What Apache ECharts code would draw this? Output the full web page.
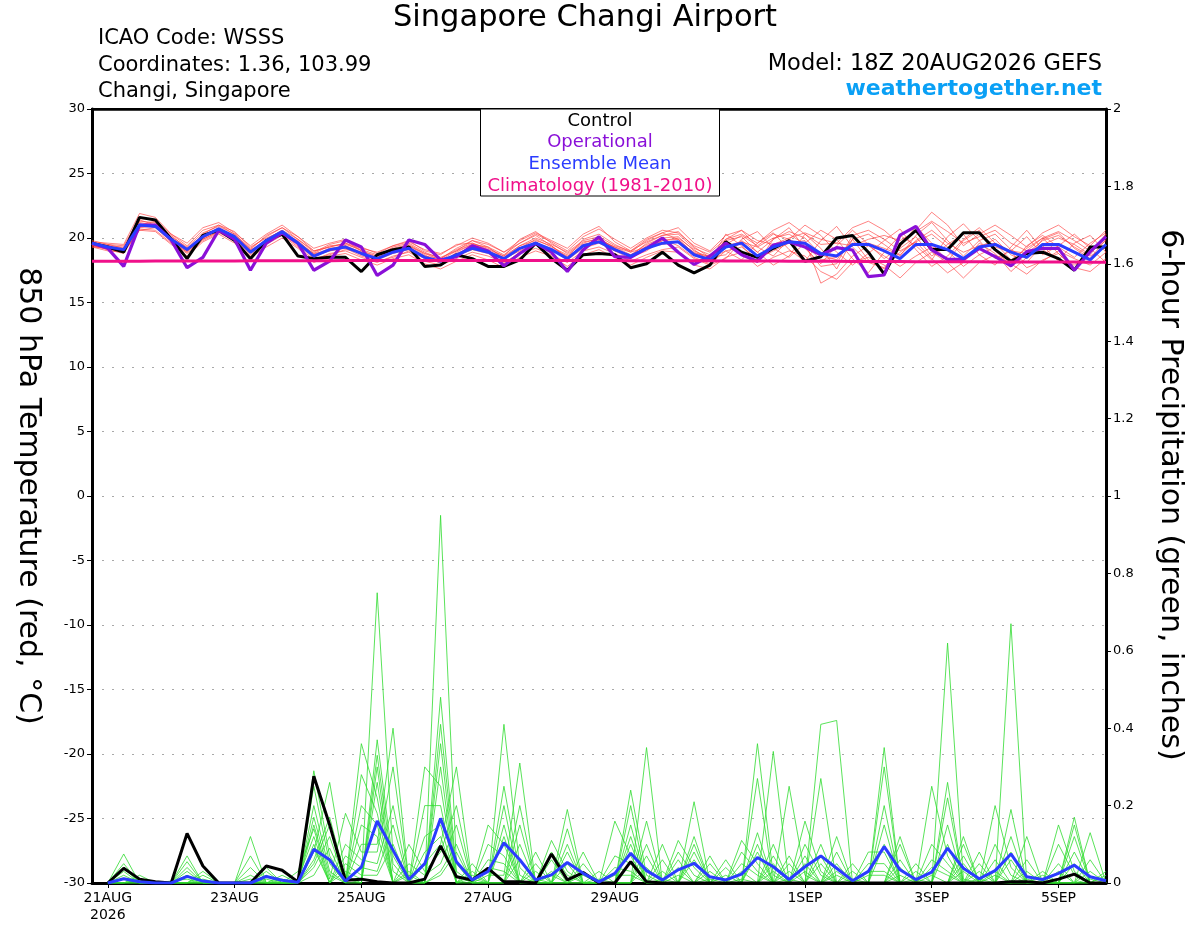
<!DOCTYPE html>
<html><head><meta charset="utf-8">
<script src="https://cdn.jsdelivr.net/npm/echarts@6/dist/echarts.min.js"></script>
<style>html,body{margin:0;padding:0;background:#fff}#c{width:1200px;height:927px}</style>
</head><body><div id="c"></div>
<script>
// ---- x axis: 6-hourly steps from 18Z 20AUG2026 to 18Z 05SEP2026 ----
const nSteps = 65;
const tickIndex = [1, 9, 17, 25, 33, 45, 53, 61];
const tickText = ['21AUG\n2026', '23AUG', '25AUG', '27AUG', '29AUG', '1SEP', '3SEP', '5SEP'];
const leftTicks = { min: -30, max: 30, interval: 5 };
const rightTicks = { min: 0, max: 2, interval: 0.2 };

// ---- 850 hPa temperature (deg C) ----
const tempControl = [
 19.6,19.3,18.9,21.6,21.4,19.9,18.4,20.2,20.6,19.8,
 18.4,19.8,20.3,18.6,18.4,18.5,18.5,17.4,18.7,19.1,
 19.3,17.8,17.9,18.7,18.4,17.8,17.8,18.3,19.6,18.4,
 17.5,18.7,18.8,18.7,17.7,18.0,18.9,17.9,17.3,17.9,
 19.7,18.9,18.5,19.2,19.8,18.2,18.55,20.0,20.2,18.9,
 17.2,19.5,20.6,19.1,19.1,20.4,20.4,19.1,18.2,18.8,
 18.9,18.4,17.5,19.3,19.3];
const tempOperational = [
 19.6,19.2,17.8,21.0,21.0,19.85,17.7,18.5,20.6,19.9,
 17.5,19.6,20.4,19.6,17.5,18.2,19.85,19.3,17.1,17.9,
 19.85,19.5,18.3,18.55,19.4,19.0,17.85,18.8,19.6,18.9,
 17.4,19.07,20.1,18.55,18.5,19.2,20.0,18.9,17.95,18.6,
 19.6,18.7,18.2,19.45,19.7,19.3,18.7,19.25,19.07,17.0,
 17.13,20.23,20.9,19.07,18.34,18.34,19.2,18.55,17.85,18.94,
 19.2,19.2,17.5,18.94,20.1];
const tempMean = [
 19.6,19.3,19.1,21.0,20.9,19.9,19.1,20.1,20.7,20.1,
 18.9,19.8,20.5,19.6,18.6,19.1,19.3,18.8,18.4,18.9,
 19.2,18.5,18.2,18.7,19.2,18.9,18.4,19.2,19.6,19.1,
 18.4,19.4,19.7,19.1,18.6,19.2,19.6,19.7,18.7,18.3,
 19.3,19.6,18.6,19.3,19.7,19.6,18.8,18.6,19.5,19.5,
 19.0,18.4,19.5,19.5,19.1,18.4,19.3,19.5,18.9,18.5,
 19.5,19.5,18.9,18.3,19.5];
const tempClimatology = [
 18.2,18.2,18.2,18.2,18.21,18.21,18.21,18.22,18.22,18.22,
 18.23,18.23,18.23,18.24,18.24,18.24,18.25,18.25,18.25,18.25,
 18.26,18.26,18.26,18.26,18.26,18.26,18.26,18.26,18.26,18.26,
 18.25,18.25,18.25,18.25,18.24,18.24,18.24,18.23,18.23,18.23,
 18.22,18.22,18.21,18.21,18.2,18.2,18.19,18.19,18.18,18.18,
 18.17,18.17,18.16,18.16,18.15,18.15,18.15,18.14,18.14,18.14,
 18.13,18.13,18.13,18.12,18.12];
const tempMembers = [
 [19.5,19.4,19.3,21.3,21.2,20.1,19.3,20.4,20.9,20.3, 19.2,20.1,20.8,19.9,18.9,19.5,19.8,19.0,18.6,19.3, 19.6,18.9,18.4,19.2,19.8,19.3,18.7,19.6,20.2,19.4, 18.5,19.9,20.3,19.5,18.9,19.8,20.4,19.9,18.8,18.6, 19.8,20.1,18.9,19.9,20.5,20.0,18.7,18.3,19.9,20.3, 19.5,18.6,20.2,21.2,19.8,18.6,19.8,20.3,19.1,18.4, 19.9,20.4,19.2,18.4,19.9],
 [19.4,19.1,18.8,20.7,20.6,19.6,18.8,19.8,20.4,19.8, 18.6,19.5,20.2,19.3,18.3,18.8,19.0,18.5,18.1,18.6, 18.9,18.2,17.9,18.4,18.9,18.6,18.1,18.8,19.2,18.7, 18.1,19.0,19.3,18.8,18.2,18.7,19.1,19.3,18.4,17.9, 18.4,19.8,18.9,17.9,18.6,20.3,19.2,17.6,19.9,18.3, 17.6,18.9,19.7,18.4,17.3,18.1,19.6,18.8,17.4,18.5, 19.4,18.2,17.9,18.9,19.8],
 [19.7,19.6,19.5,21.9,21.6,20.3,19.6,20.8,21.2,20.4, 19.4,20.3,21.0,20.1,19.0,19.3,19.6,19.2,18.9,19.4, 19.8,19.0,18.7,19.5,19.6,19.1,18.6,19.9,20.5,19.6, 18.8,19.7,19.9,19.2,18.6,19.6,20.2,20.5,19.3,18.5, 19.5,20.2,19.4,20.3,19.9,19.3,17.8,18.0,20.2,20.6, 19.9,19.0,19.7,20.3,19.3,18.2,19.3,19.9,18.7,18.1, 19.5,20.0,19.5,18.7,20.3],
 [19.3,19.2,19.0,20.9,21.1,20.0,19.2,20.0,20.6,20.2, 19.1,19.6,20.4,19.8,18.7,19.2,19.4,18.7,18.5,19.1, 19.4,18.7,18.0,18.9,19.5,19.3,18.4,19.2,19.9,19.3, 18.7,19.6,20.0,19.2,18.5,19.0,19.8,20.0,19.1,18.2, 20.3,19.4,18.1,19.9,20.8,19.2,18.0,19.4,20.6,19.5, 18.4,19.3,20.9,19.6,18.2,19.8,20.6,19.0,17.9,19.4, 20.2,19.3,18.5,19.6,20.4],
 [19.6,19.5,19.2,21.1,20.8,19.7,18.9,20.0,20.7,20.0, 18.8,19.9,20.6,19.5,18.4,18.7,19.1,18.9,18.2,18.5, 19.0,18.4,18.3,18.6,19.1,18.8,18.0,18.9,19.5,19.1, 18.3,19.2,19.6,19.0,18.4,19.4,19.9,19.4,18.5,18.0, 19.0,19.3,18.4,19.0,19.6,19.8,16.5,17.2,18.6,19.4, 18.6,17.8,18.6,19.3,19.0,17.8,18.7,19.3,18.9,17.7, 18.2,19.0,18.4,17.9,18.9],
 [19.5,19.3,19.2,21.2,21.0,20.0,19.0,20.3,21.0,20.5, 19.3,20.0,20.5,19.6,18.8,19.4,19.5,19.1,18.7,19.2, 19.5,18.8,18.5,19.0,19.8,19.5,18.9,19.6,20.3,19.7, 19.0,20.1,20.7,19.9,19.2,20.0,20.6,20.4,19.4,18.9, 19.9,20.3,19.6,20.6,21.2,20.3,19.5,19.6,20.8,21.3, 20.6,19.5,20.6,22.0,21.0,19.4,20.3,21.0,20.2,19.3, 20.4,21.0,20.1,19.4,20.6],
 [19.4,19.2,18.9,20.8,20.9,19.8,19.0,19.9,20.5,19.9, 18.9,19.7,20.3,19.7,18.8,19.0,19.2,18.6,18.3,18.8, 19.1,18.5,18.1,18.8,19.3,18.9,18.3,19.1,19.7,19.0, 18.5,19.5,19.8,19.3,18.9,19.3,19.5,19.7,18.9,18.4, 19.0,18.3,19.6,20.4,19.1,18.2,19.8,20.9,19.3,18.1, 17.7,19.2,20.1,18.6,19.5,20.3,18.7,17.9,19.3,20.6, 19.1,18.3,19.6,20.2,18.9],
 [19.5,19.1,19.0,20.6,20.5,19.5,18.6,19.7,20.3,19.6, 18.5,19.3,20.0,19.2,18.1,18.6,18.8,18.3,17.9,18.4, 18.7,18.0,17.6,18.2,18.7,18.3,17.7,18.5,19.0,18.6, 17.8,18.7,19.1,18.5,17.9,18.5,19.0,18.9,17.9,17.6, 18.5,18.9,17.8,18.5,19.0,18.6,17.4,16.8,18.1,18.5, 17.9,16.9,18.1,18.9,18.1,16.9,18.1,18.7,18.0,17.2, 18.3,18.8,17.7,17.4,18.4],
 [19.8,19.5,19.4,21.5,21.4,20.3,19.4,20.6,21.0,20.3, 19.1,20.2,20.8,20.1,19.2,19.6,19.9,19.3,18.8,19.4, 19.7,19.1,18.8,19.4,20.0,19.6,18.9,19.8,20.4,19.8, 19.2,20.3,20.9,19.7,19.0,19.9,20.4,20.8,19.6,19.0, 20.2,20.6,19.8,19.5,20.0,20.4,19.9,19.6,19.4,19.9, 20.2,19.8,20.5,21.3,20.5,19.6,20.1,20.6,19.6,19.0, 20.0,20.5,19.8,19.0,20.1],
 [19.3,19.0,18.9,20.6,20.8,19.9,19.1,19.9,20.5,20.0, 18.7,19.6,20.3,19.4,18.6,19.0,19.3,18.8,18.4,18.9, 19.2,18.6,18.2,18.7,19.4,19.0,18.4,19.0,19.6,19.2, 18.6,19.3,19.7,19.0,18.7,19.2,19.8,19.9,18.8,18.3, 19.9,20.6,19.3,18.6,19.9,21.0,20.2,18.9,17.9,18.8, 19.8,20.7,19.1,17.8,18.6,19.9,20.8,19.6,18.3,19.2, 20.0,18.8,17.6,18.9,20.3],
 [19.6,19.4,19.1,21.4,21.0,19.8,18.9,20.1,20.8,20.1, 19.0,19.9,20.6,19.9,19.0,19.3,19.6,19.0,18.5,19.0, 19.3,18.6,18.4,19.1,19.6,19.2,18.6,19.4,20.0,19.5, 18.9,19.8,20.1,19.4,19.0,19.7,20.2,20.3,19.2,18.7, 19.4,19.7,19.3,20.0,20.3,19.5,18.3,18.5,19.6,19.6, 19.2,18.7,19.8,20.6,19.6,18.9,19.4,19.6,19.0,18.8, 19.8,20.2,19.3,18.6,19.3],
 [19.4,19.3,19.0,21.0,21.3,20.2,19.2,20.2,20.7,20.2, 19.0,19.8,20.4,19.6,18.5,19.1,19.4,18.9,18.3,19.0, 19.4,18.8,18.3,19.0,19.5,19.0,18.5,19.4,19.8,19.4, 18.4,19.4,19.9,19.3,18.7,19.5,20.0,20.1,19.0,18.5, 18.7,19.9,20.5,19.2,18.5,19.6,20.6,19.9,18.4,17.3, 18.9,20.2,19.4,18.3,20.1,21.1,19.8,18.4,19.0,20.1, 18.7,19.4,20.3,19.2,18.1]
];

// ---- 6-hour precipitation (inches) ----
const precipControl = [
 null,0,.038,.01,.003,0,.128,.044,0,0,
 0,.044,.033,.003,.276,.15,.007,.01,.003,0,
 0,.01,.096,.016,.008,.038,.003,.003,0,.075,
 .008,.027,0,0,.055,.003,0,0,0,0,
 0,0,0,0,0,0,0,0,0,0,
 0,0,0,0,0,0,0,0,.003,.003,
 0,.01,.023,0,0];
const precipMean = [
 null,0,.011,.003,0,0,.017,.005,0,0,
 0,.017,.007,.002,.087,.06,.005,.041,.16,.085,
 .009,.05,.167,.055,.008,.03,.104,.06,.008,.021,
 .053,.025,.003,.025,.077,.032,.008,.034,.051,.016,
 .008,.023,.066,.042,.009,.042,.07,.038,.006,.03,
 .094,.034,.009,.028,.09,.038,.011,.032,.075,.016,
 .009,.025,.046,.016,.006];
const precipMembers = [
 [null,0,0,.01,0,0,.04,0,0,0, 0,0,0,0,.29,.07,0,.28,.18,0, .03,0,.03,.1,0,0,.12,0,.08,0, 0,.05,0,0,.15,0,0,.04,0,0, 0,0,.36,.02,0,.1,.02,0,.01,0, 0,.04,0,0,.1,0,.08,0,0,.06, 0,0,.12,0,0],
 [null,0,0,.01,0,0,.03,0,0,0, 0,.04,0,0,.25,.05,0,.2,.15,0, .02,0,.02,.08,0,.15,.1,0,.05,0, 0,.03,0,0,.12,0,0,.02,0,.07, 0,0,.27,0,0,.07,0,0,0,0, 0,.02,0,.25,.07,0,.05,0,0,.03, 0,0,.08,0,0],
 [null,0,0,0,0,0,.02,0,0,0, 0,.03,0,0,.2,.03,0,.15,.12,0, 0,0,.95,.05,0,.1,.07,0,.03,0, 0,.02,0,0,.1,0,.1,0,0,.05, 0,0,.13,0,0,.05,0,0,0,0, .35,0,0,.1,.05,0,.03,0,0,.01, 0,0,.05,0,.03],
 [null,0,0,0,0,.005,.01,0,0,0, 0,.02,0,0,.17,.02,0,.1,.1,.4, 0,0,.48,.03,0,.06,.05,0,.01,0, 0,0,0,.16,.07,0,.06,0,0,.03, 0,0,.1,0,0,.03,0,.02,0,0, .3,0,0,.06,.03,0,.01,0,0,0, 0,.15,.03,0,.02],
 [null,0,.075,0,0,0,0,0,0,0, 0,.01,0,0,.15,.01,.18,.08,.08,.3, 0,0,.41,.02,0,.04,.03,0,0,0, .19,0,0,.07,.05,0,.03,0,0,.01, 0,0,.08,0,.25,.02,0,.12,0,0, .2,0,0,.04,.02,0,0,0,.67,0, 0,.1,.02,0,0],
 [null,0,.05,0,0,0,0,0,0,0, 0,0,0,.03,.14,0,.1,.06,.05,.2, 0,0,.36,0,0,.02,.02,.31,0,0, .14,0,0,.04,.03,0,.01,0,0,0, 0,.11,.05,0,.07,0,0,.08,0,0, .15,0,0,.02,0,.12,0,0,.19,0, 0,.05,0,0,0],
 [null,0,.04,0,0,0,0,0,0,0, .12,0,0,.01,.12,0,.07,.04,.03,.15, 0,0,.3,0,.05,0,0,.2,0,0, .1,0,0,.02,.02,0,0,0,.21,0, 0,.08,.03,0,.05,0,0,.05,0,0, .1,0,.05,0,0,.1,0,0,.12,0, 0,.03,0,0,0],
 [null,0,.03,0,0,0,0,.03,0,0, .07,0,0,0,.1,0,.05,.02,.02,.1, 0,.3,.25,0,.03,0,0,.15,0,0, .08,0,0,0,0,.35,0,0,.12,0, 0,.05,.02,0,.03,0,0,.03,0,.08, .08,0,.03,0,0,.07,0,0,.08,0, 0,0,0,.13,0],
 [null,0,.02,0,0,0,0,.02,0,0, .04,0,0,0,.09,0,.03,.01,.75,.07, 0,.2,.2,0,.02,0,0,.1,0,0, .05,0,.03,0,0,.16,0,0,.1,0, 0,.03,0,0,.01,0,.41,.42,0,.05, .05,0,.01,0,0,.05,0,0,.06,0, .03,0,0,.06,0],
 [null,0,.01,0,0,0,0,.01,0,0, .02,0,0,0,.08,.26,.02,0,.37,.05, 0,.12,.15,0,.01,0,0,.06,0,.11, .03,0,.01,0,0,.1,0,0,.08,0, 0,.01,0,.34,0,0,.27,0,0,.03, .03,0,0,0,0,.03,0,.2,.04,0, .02,0,0,.03,0],
 [null,0,.01,0,0,0,0,0,0,0, .01,0,.02,0,.06,.17,.01,0,.33,.03, 0,.08,.12,0,0,0,.41,.04,0,.08, .02,0,0,0,0,.07,0,0,.06,0, .06,0,0,.1,0,0,.1,0,0,.02, .02,0,0,0,.62,.01,0,.1,.02,0, 0,0,0,.01,0],
 [null,0,0,0,0,0,0,0,0,0, 0,0,.01,0,.05,.15,0,0,.3,0, 0,.05,.1,.3,0,0,.25,.02,0,.06, 0,0,0,0,0,.04,0,.11,.04,0, .04,0,0,.07,0,0,.07,0,0,0, 0,.12,0,0,.26,0,0,.06,0,0, 0,0,0,0,0],
 [null,0,0,0,0,0,.07,0,0,0, 0,0,0,0,.04,.12,0,0,.26,0, .1,.03,.08,.2,0,0,.2,0,0,.03, 0,0,0,0,.24,.02,0,.08,.02,0, .02,0,0,.05,0,0,.05,0,.05,0, 0,.1,0,0,.22,0,0,.03,0,0, 0,0,.17,0,0],
 [null,0,0,.02,0,0,.055,0,0,0, 0,0,0,0,.02,.09,0,.36,.22,0, .05,.02,.05,.15,0,0,.15,0,0,.02, 0,.08,0,0,.2,0,0,.06,0,0, 0,0,0,.03,0,.16,.03,0,.03,0, 0,.06,0,0,.15,0,0,.02,0,.12, 0,0,.15,0,0]
];

// ---- text ----
const titleText = 'Singapore Changi Airport';
const infoLines = ['ICAO Code: WSSS', 'Coordinates: 1.36, 103.99', 'Changi, Singapore'];
const modelText = 'Model: 18Z 20AUG2026 GEFS';
const siteText = 'weathertogether.net';
const legendItems = [
  { name: 'Control', color: '#000000' },
  { name: 'Operational', color: '#8a10d8' },
  { name: 'Ensemble Mean', color: '#2a3cff' },
  { name: 'Climatology (1981-2010)', color: '#f0108a' }
];
const leftName = '850 hPa Temperature (red, °C)';
const rightName = '6-hour Precipitation (green, inches)';

// category names (6-hourly valid times)
const MON = ['JAN','FEB','MAR','APR','MAY','JUN','JUL','AUG','SEP','OCT','NOV','DEC'];
const t0 = Date.UTC(2026, 7, 20, 18);
const times = [];
for (let i = 0; i < nSteps; i++) {
  const d = new Date(t0 + i * 6 * 3600 * 1000);
  times.push(String(d.getUTCHours()).padStart(2, '0') + 'Z' + d.getUTCDate() + MON[d.getUTCMonth()]);
}

const FONT = 'DejaVu Sans';
const series = [];
tempMembers.forEach(d => series.push({
  type: 'line', data: d, yAxisIndex: 0, symbol: 'none', silent: true, z: 2,
  lineStyle: { width: 0.8, color: 'rgba(255,60,60,0.8)' }
}));
precipMembers.forEach(d => series.push({
  type: 'line', data: d, yAxisIndex: 1, symbol: 'none', silent: true, z: 2,
  lineStyle: { width: 0.8, color: '#30dc30' }
}));
series.push({ type: 'line', data: tempControl, yAxisIndex: 0, symbol: 'none', z: 3, lineStyle: { width: 3, color: '#000' } });
series.push({ type: 'line', data: tempOperational, yAxisIndex: 0, symbol: 'none', z: 3, lineStyle: { width: 3.2, color: '#8a10d8' } });
series.push({ type: 'line', data: tempMean, yAxisIndex: 0, symbol: 'none', z: 3, lineStyle: { width: 3, color: '#2a3cff' } });
series.push({ type: 'line', data: tempClimatology, yAxisIndex: 0, symbol: 'none', z: 3, lineStyle: { width: 3, color: '#f0108a' } });
series.push({ type: 'line', data: precipControl, yAxisIndex: 1, symbol: 'none', z: 3, lineStyle: { width: 3, color: '#000' } });
series.push({ type: 'line', data: precipMean, yAxisIndex: 1, symbol: 'none', z: 3, lineStyle: { width: 3, color: '#2a3cff' } });

const graphic = [
  { type: 'text', x: 585, y: 18, z: 100, style: { text: titleText, fontFamily: FONT, fontSize: 30.5, fill: '#000', align: 'center', verticalAlign: 'middle' } },
  { type: 'text', x: 98, y: 39, z: 100, style: { text: infoLines[0], fontFamily: FONT, fontSize: 21, fill: '#000', align: 'left', verticalAlign: 'middle' } },
  { type: 'text', x: 98, y: 65.5, z: 100, style: { text: infoLines[1], fontFamily: FONT, fontSize: 21, fill: '#000', align: 'left', verticalAlign: 'middle' } },
  { type: 'text', x: 98, y: 91.5, z: 100, style: { text: infoLines[2], fontFamily: FONT, fontSize: 21, fill: '#000', align: 'left', verticalAlign: 'middle' } },
  { type: 'text', x: 1102, y: 64, z: 100, style: { text: modelText, fontFamily: FONT, fontSize: 22.5, fill: '#000', align: 'right', verticalAlign: 'middle' } },
  { type: 'text', x: 1102, y: 89, z: 100, style: { text: siteText, fontFamily: FONT, fontSize: 22, fontWeight: 'bold', fill: '#0aa0f5', align: 'right', verticalAlign: 'middle' } },
  { type: 'rect', z: 100, shape: { x: 480.5, y: 109, width: 239, height: 87 }, style: { fill: '#fff', stroke: '#000', lineWidth: 1 } },
  { type: 'text', x: 28, y: 496, rotation: -Math.PI / 2, z: 100, style: { text: leftName, fontFamily: FONT, fontSize: 30, fill: '#000', align: 'center', verticalAlign: 'middle' } },
  { type: 'text', x: 1170, y: 495, rotation: -Math.PI / 2, z: 100, style: { text: rightName, fontFamily: FONT, fontSize: 30, fill: '#000', align: 'center', verticalAlign: 'middle' } }
];
const legendY = [121, 142.5, 164, 186];
legendItems.forEach((it, k) => graphic.push({
  type: 'text', x: 600, y: legendY[k], z: 101,
  style: { text: it.name, fontFamily: FONT, fontSize: 18, fill: it.color, align: 'center', verticalAlign: 'middle' }
}));

const chart = echarts.init(document.getElementById('c'), null, { renderer: 'canvas' });
chart.setOption({
  animation: false,
  backgroundColor: '#fff',
  textStyle: { fontFamily: FONT },
  grid: { left: 92, right: 94, top: 109, bottom: 44, containLabel: false, outerBoundsMode: 'none',
          show: true, borderColor: '#000', borderWidth: 2, backgroundColor: 'transparent' },
  xAxis: [{
    type: 'category', data: times, boundaryGap: false, position: 'bottom',
    axisLine: { show: true, onZero: false, lineStyle: { color: '#000', width: 3 } },
    axisTick: { show: true, length: 5, inside: false, lineStyle: { color: '#000', width: 1 },
                interval: (idx) => tickIndex.includes(idx) },
    axisLabel: { show: true, color: '#000', fontSize: 14, margin: 7, lineHeight: 17,
                 interval: (idx) => tickIndex.includes(idx),
                 formatter: (v, idx) => { const k = tickIndex.indexOf(idx); return k >= 0 ? tickText[k] : ''; } },
    splitLine: { show: false }
  }, {
    type: 'category', data: times, boundaryGap: false, position: 'top',
    axisLine: { show: true, onZero: false, lineStyle: { color: '#000', width: 2.5 } },
    axisTick: { show: false }, axisLabel: { show: false }, splitLine: { show: false }
  }],
  yAxis: [
    { type: 'value', position: 'left', min: leftTicks.min, max: leftTicks.max, interval: leftTicks.interval,
      axisLine: { show: true, onZero: false, lineStyle: { color: '#000', width: 3 } },
      axisTick: { show: true, length: 5, lineStyle: { color: '#000' } },
      axisLabel: { color: '#000', fontSize: 13, margin: 7 },
      splitLine: { show: true, lineStyle: { color: '#a8a8a8', width: 1, type: [2, 8] } } },
    { type: 'value', position: 'right', min: rightTicks.min, max: rightTicks.max, interval: rightTicks.interval,
      axisLine: { show: true, onZero: false, lineStyle: { color: '#000', width: 3 } },
      axisTick: { show: true, length: 5, lineStyle: { color: '#000' } },
      axisLabel: { color: '#000', fontSize: 13, margin: 7, formatter: (v) => String(Math.round(v * 10) / 10) },
      splitLine: { show: false } }
  ],
  series: series,
  graphic: graphic
});
</script></body></html>
